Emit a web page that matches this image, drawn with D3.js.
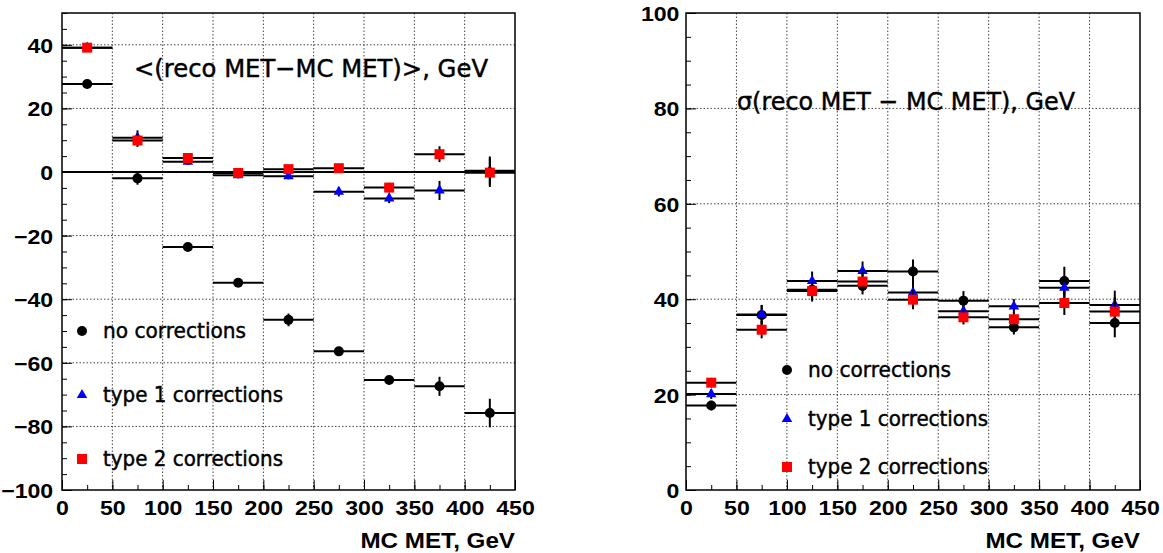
<!DOCTYPE html>
<html>
<head>
<meta charset="utf-8">
<script src="https://cdn.jsdelivr.net/npm/d3@7"></script>
<style>
  html, body { margin: 0; padding: 0; background: #fff; }
  svg { display: block; }
</style>
</head>
<body>
<svg id="chart" width="1163" height="553"></svg>
<script>
// ---- data ----
const binLow  = [0, 50, 100, 150, 200, 250, 300, 350, 400];
const binHigh = [50, 100, 150, 200, 250, 300, 350, 400, 450];
const binCenter = [25, 75, 125, 175, 225, 275, 325, 375, 425];

const seriesNames = ["no corrections", "type 1 corrections", "type 2 corrections"];

// mean of (reco MET - MC MET)
const meanNo    = [27.7, -2.0, -23.6, -34.8, -46.5, -56.4, -65.4, -67.4, -75.8];
const meanNoErr = [1.0, 2.0, 1.0, 1.0, 2.0, 1.0, 1.0, 3.0, 4.5];
const meanT1    = [39.1, 10.8, 3.2, -1.0, -1.3, -6.2, -8.3, -5.8, 0.4];
const meanT1Err = [1.0, 2.3, 1.0, 1.0, 1.0, 1.5, 1.5, 3.0, 4.5];
const meanT2    = [39.1, 9.9, 4.4, -0.3, 0.9, 1.2, -4.9, 5.6, -0.2];
const meanT2Err = [1.0, 2.0, 1.0, 1.0, 1.0, 1.0, 1.5, 2.5, 4.5];

// sigma of (reco MET - MC MET)
const sigNo    = [17.7, 36.7, 42.0, 42.8, 45.8, 39.7, 34.1, 43.8, 35.0];
const sigNoErr = [1.0, 2.1, 2.5, 1.8, 2.5, 2.0, 1.5, 3.0, 3.0];
const sigT1    = [20.1, 36.8, 43.8, 45.9, 41.4, 37.5, 38.5, 42.4, 38.8];
const sigT1Err = [1.0, 2.0, 2.0, 2.0, 2.0, 1.5, 1.5, 2.5, 3.0];
const sigT2    = [22.5, 33.6, 41.7, 43.7, 39.9, 36.2, 35.8, 39.2, 37.4];
const sigT2Err = [1.0, 1.8, 1.8, 2.0, 2.0, 1.5, 1.5, 2.5, 3.0];

const xTicks = [0, 50, 100, 150, 200, 250, 300, 350, 400, 450];
const leftYTicks  = [-100, -80, -60, -40, -20, 0, 20, 40];
const rightYTicks = [0, 20, 40, 60, 80, 100];

const leftTitle  = "<(reco MET\u2212MC MET)>, GeV";
const rightTitle = "\u03c3(reco MET \u2212 MC MET), GeV";
const xTitle = "MC MET, GeV";

// ---- drawing ----
const svg = d3.select("#chart");
const BOLD = "'Liberation Sans', Arial, Helvetica, sans-serif";
const SOFT = "'DejaVu Sans', sans-serif";
const SX = 1.1;

const styles = [
  { color: "#000000", shape: "circle" },
  { color: "#0000ff", shape: "triangle" },
  { color: "#ff0000", shape: "square" }
];

function boldText(sel, size) {
  sel.style("font-family", BOLD).style("font-weight", "700")
     .style("font-size", size + "px").style("fill", "#000");
}
function softText(sel, size) {
  sel.style("font-family", SOFT).style("font-weight", "400")
     .style("font-size", size + "px").style("fill", "#000")
     .style("stroke", "#000").style("stroke-width", "0.45px");
}

function panel(opts) {
  const g = svg.append("g");
  const x = d3.scaleLinear().domain([0, 450]).range([opts.x0, opts.x1]);
  const y = d3.scaleLinear().domain(opts.yDomain).range([opts.yBot, opts.yTop]);

  // grid
  const grid = g.append("g");
  grid.selectAll("line.gx").data(xTicks.filter(d => d > 0 && d < 450)).join("line")
    .attr("x1", d => x(d)).attr("x2", d => x(d))
    .attr("y1", opts.yTop).attr("y2", opts.yBot)
    .attr("stroke", "#444").attr("stroke-width", 1).attr("stroke-dasharray", "1.5,2");
  grid.selectAll("line.gy").data(opts.yTicks.filter(d => d > opts.yDomain[0] && d < opts.yDomain[1] && !(opts.zeroLine && d === 0))).join("line")
    .attr("x1", opts.x0).attr("x2", opts.x1)
    .attr("y1", d => y(d)).attr("y2", d => y(d))
    .attr("stroke", "#444").attr("stroke-width", 1).attr("stroke-dasharray", "1.5,2");

  if (opts.zeroLine) {
    g.append("line").attr("x1", opts.x0).attr("x2", opts.x1)
      .attr("y1", y(0)).attr("y2", y(0)).attr("stroke", "#000").attr("stroke-width", 2);
  }

  // axes (ticks inside)
  const minorX = d3.range(0, 451, 25);
  const minorY = d3.range(opts.yDomain[0], opts.yDomain[1] + 0.1, 5);
  g.append("g").attr("transform", `translate(0,${opts.yBot})`)
    .call(d3.axisBottom(x).tickValues(minorX).tickSize(-5).tickFormat(""))
    .call(a => a.select(".domain").remove());
  g.append("g").attr("transform", `translate(${opts.x0},0)`)
    .call(d3.axisLeft(y).tickValues(minorY).tickSize(-5).tickFormat(""))
    .call(a => a.select(".domain").remove());

  const ax = g.append("g").attr("transform", `translate(0,${opts.yBot})`)
    .call(d3.axisBottom(x).tickValues(xTicks).tickSize(-10).tickPadding(0))
    .call(a => a.select(".domain").remove());
  ax.selectAll("text")
    .attr("y", 25).attr("dy", null)
    .attr("transform", `scale(${SX},1)`)
    .call(boldText, 21);

  const ay = g.append("g").attr("transform", `translate(${opts.x0},0)`)
    .call(d3.axisLeft(y).tickValues(opts.yTicks).tickSize(-10))
    .call(a => a.select(".domain").remove());
  ay.selectAll("text")
    .attr("x", opts.yLabelX).attr("dy", "0.36em")
    .attr("transform", `scale(${SX},1)`)
    .call(boldText, 21);
  g.selectAll(".tick line").attr("stroke", "#000").attr("stroke-width", 1);

  // frame
  g.append("rect").attr("x", opts.x0).attr("y", opts.yTop)
    .attr("width", opts.x1 - opts.x0).attr("height", opts.yBot - opts.yTop)
    .attr("fill", "none").attr("stroke", "#000").attr("stroke-width", 1.5);

  // data series
  opts.series.forEach((s, si) => {
    const st = styles[si];
    const sg = g.append("g");
    s.vals.forEach((v, i) => {
      sg.append("line").attr("x1", x(binLow[i])).attr("x2", x(binHigh[i]))
        .attr("y1", y(v)).attr("y2", y(v)).attr("stroke", "#000").attr("stroke-width", 2);
      sg.append("line").attr("x1", x(binCenter[i])).attr("x2", x(binCenter[i]))
        .attr("y1", y(v - s.errs[i])).attr("y2", y(v + s.errs[i]))
        .attr("stroke", "#000").attr("stroke-width", 2);
    });
    s.vals.forEach((v, i) => drawMarker(sg, x(binCenter[i]), y(v), st));
  });

  // texts
  g.append("text").attr("x", opts.titleX).attr("y", opts.titleY)
    .attr("textLength", opts.titleLen).attr("lengthAdjust", "spacingAndGlyphs")
    .call(softText, 25)
    .text(opts.title);

  g.append("text").attr("x", opts.x1 / SX).attr("y", 548).attr("text-anchor", "end")
    .attr("transform", `scale(${SX},1)`)
    .call(boldText, 22)
    .text(xTitle);

  // legend
  seriesNames.forEach((name, i) => {
    const ly = opts.legendY[i];
    drawMarker(g, opts.legendX, ly, styles[i]);
    g.append("text").attr("x", opts.legendX + 21).attr("y", ly + 7)
      .attr("textLength", i === 0 ? 143 : 180).attr("lengthAdjust", "spacingAndGlyphs")
      .call(softText, 21)
      .text(name);
  });
}

function drawMarker(sel, cx, cy, st) {
  if (st.shape === "circle") {
    sel.append("circle").attr("cx", cx).attr("cy", cy).attr("r", 5).attr("fill", st.color);
  } else if (st.shape === "square") {
    sel.append("rect").attr("x", cx - 5).attr("y", cy - 5).attr("width", 10).attr("height", 10).attr("fill", st.color);
  } else {
    sel.append("path").attr("d", d3.symbol(d3.symbolTriangle, 48)())
      .attr("transform", `translate(${cx},${cy})`).attr("fill", st.color);
  }
}

panel({
  x0: 62, x1: 515, yTop: 13, yBot: 490,
  yDomain: [-100, 50], yTicks: leftYTicks, yLabelX: -8, zeroLine: true,
  series: [
    { vals: meanNo, errs: meanNoErr },
    { vals: meanT1, errs: meanT1Err },
    { vals: meanT2, errs: meanT2Err }
  ],
  title: leftTitle, titleX: 134, titleY: 77, titleLen: 354,
  legendX: 82, legendY: [331, 395, 459]
});

panel({
  x0: 686, x1: 1140, yTop: 13, yBot: 490,
  yDomain: [0, 100], yTicks: rightYTicks, yLabelX: -6, zeroLine: false,
  series: [
    { vals: sigNo, errs: sigNoErr },
    { vals: sigT1, errs: sigT1Err },
    { vals: sigT2, errs: sigT2Err }
  ],
  title: rightTitle, titleX: 737, titleY: 110, titleLen: 338,
  legendX: 787, legendY: [370, 419, 467]
});
</script>
</body>
</html>
